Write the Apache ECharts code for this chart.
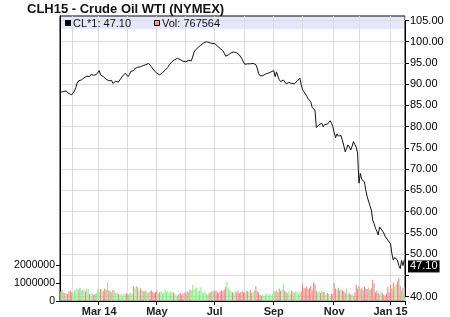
<!DOCTYPE html>
<html>
<head>
<meta charset="utf-8">
<script src="https://cdn.jsdelivr.net/npm/echarts@6/dist/echarts.min.js"></script>
<style>html,body{margin:0;padding:0;background:#fff;}#c{width:450px;height:317px;}</style>
</head>
<body>
<div id="c"></div>
<script>
// ---- data ----
var titleText = 'CLH15 - Crude Oil WTI (NYMEX)';
var legendPrice = 'CL*1: 47.10';
var legendVol = 'Vol: 767564';
var lastLabel = '47.10';
var lastValue = 47.10;
var hiddenPriceLabels = [45];
var holidays = ['2014-02-17','2014-04-18','2014-05-26','2014-07-04','2014-09-01','2014-11-27','2014-12-25','2015-01-01'];
var firstDay = '2014-01-21', lastDay = '2015-01-16';
var monthNames = ['Jan','Feb','Mar','Apr','May','Jun','Jul','Aug','Sep','Oct','Nov','Dec'];
var labelMonths = [0, 2, 4, 6, 8, 10];
var priceTicks = {min: 40, max: 105, interval: 5};
var volTicks = [0, 1000000, 2000000];

var price = [
88.1,88.0,88.3,88.1,88.4,88.2,87.8,87.6,87.5,87.7,
88.4,89.2,90.3,90.8,90.7,91.0,91.2,91.5,91.4,91.9,
92.0,91.8,92.3,92.6,92.1,91.8,92.3,92.6,93.2,92.2,
92.5,91.8,91.6,91.2,91.4,90.8,90.6,90.9,90.2,90.4,
90.7,90.8,90.5,91.0,91.4,91.9,92.3,92.6,92.2,91.8,
92.3,93.0,93.3,93.2,93.7,94.1,94.0,94.3,94.1,94.5,
94.4,94.7,94.6,94.9,94.9,94.5,94.1,93.8,93.2,92.9,
92.6,92.8,92.2,92.4,92.7,93.0,93.3,93.7,94.0,94.6,
95.0,95.3,95.2,95.8,95.9,96.1,96.0,95.8,95.5,95.4,
95.6,95.3,95.2,95.6,95.4,95.5,96.4,97.5,98.0,98.2,
98.7,98.9,99.2,99.4,99.7,99.8,100.0,100.1,99.8,99.9,
99.6,99.7,99.6,99.3,99.0,98.7,98.4,98.2,97.9,97.3,
96.6,96.9,96.9,97.2,97.4,97.3,97.6,97.6,97.4,97.1,
96.9,96.4,95.9,95.2,94.7,94.9,94.8,95.0,94.8,94.7,
94.9,95.0,94.6,93.8,92.5,92.0,91.7,92.0,92.3,92.4,
92.5,92.6,92.7,92.9,93.0,93.2,91.8,92.9,91.9,91.1,
90.6,90.8,91.0,90.6,90.1,90.3,90.4,90.6,90.2,89.8,
90.1,90.4,90.7,91.0,91.4,89.9,88.7,88.2,87.8,87.2,
86.6,86.4,85.8,84.5,84.2,83.9,79.8,80.1,80.5,80.3,
80.8,80.0,80.5,80.8,80.6,81.0,81.4,80.9,80.0,78.6,
77.4,78.3,77.8,77.6,77.9,77.6,75.5,74.1,74.9,75.7,
75.2,74.5,75.4,76.5,75.8,75.2,73.8,66.7,69.0,67.6,
67.2,67.0,65.0,63.5,63.9,61.4,60.4,58.0,57.2,56.1,
55.4,54.5,56.4,56.8,55.5,55.0,54.2,53.8,53.3,53.1,
52.4,50.0,48.6,49.2,49.3,48.6,47.3,46.6,48.5,47.3,
48.6
];

// volume in millions of contracts
var volumeM = [
0.55,0.62,0.50,0.45,0.45,0.40,0.55,0.60,0.50,0.48,
0.60,0.62,0.70,0.65,0.75,0.60,0.62,0.65,0.55,0.70,
0.68,0.40,0.38,0.42,0.35,0.40,0.45,0.70,0.50,0.68,
0.62,0.55,0.70,0.65,1.08,0.60,0.55,0.50,0.62,0.60,
0.45,0.50,0.40,0.35,0.42,0.30,0.40,0.38,0.45,0.35,
0.42,0.48,0.40,0.80,0.72,0.85,0.78,0.60,0.75,0.65,
0.55,0.55,0.60,0.50,0.45,0.55,0.60,0.52,0.45,0.50,
0.60,0.45,0.50,0.55,0.42,0.48,0.65,0.50,0.58,0.45,
0.55,0.50,0.48,0.40,0.35,0.30,0.40,0.45,0.35,0.42,
0.50,0.45,0.55,0.50,0.65,0.60,0.90,0.62,0.70,0.75,
0.55,0.60,0.78,0.50,0.45,0.55,0.40,0.35,0.45,0.50,
0.55,0.60,0.55,0.60,0.50,0.45,0.55,0.60,0.55,0.65,
0.80,1.10,0.70,0.60,0.55,0.50,0.45,0.55,0.50,0.60,
0.45,0.50,0.55,0.48,0.50,0.60,0.55,0.50,0.62,0.45,
0.52,0.58,0.85,0.55,0.50,0.35,0.30,0.40,0.28,0.35,
0.45,0.32,0.38,0.30,0.40,0.60,0.55,0.62,0.50,0.70,
0.58,0.65,0.98,0.60,0.50,0.45,0.55,0.40,0.60,0.50,
0.45,0.55,0.52,0.40,0.50,0.55,1.00,0.75,0.70,0.82,
0.65,0.72,0.85,0.60,1.05,0.95,0.60,0.50,0.55,0.45,
0.60,0.50,0.52,0.35,0.45,0.40,0.30,0.42,0.38,1.00,
0.70,0.65,0.75,0.60,0.68,0.60,0.55,0.45,0.70,0.40,
0.45,0.35,0.42,0.30,0.50,0.92,0.70,0.85,0.65,0.72,
0.60,0.80,0.70,0.68,0.75,0.62,0.72,1.20,1.00,0.50,
0.60,0.45,0.40,0.55,0.45,0.35,0.30,0.42,0.80,0.50,
0.90,0.70,1.05,0.80,0.95,1.10,1.30,0.85,0.60,0.75,
0.77
];

// ---- trading-day categories ----
var dates = [];
(function () {
  var d = Date.parse(firstDay + 'T00:00:00Z'), end = Date.parse(lastDay + 'T00:00:00Z');
  for (; d <= end; d += 86400000) {
    var dt = new Date(d), wd = dt.getUTCDay(), s = dt.toISOString().slice(0, 10);
    if (wd === 0 || wd === 6 || holidays.indexOf(s) >= 0) continue;
    dates.push(s);
  }
})();
function monthOf(s) { return parseInt(s.slice(5, 7), 10) - 1; }
function isMonthStart(i) { return i > 0 && monthOf(dates[i]) !== monthOf(dates[i - 1]); }
function isLabelMonth(i) { return isMonthStart(i) && labelMonths.indexOf(monthOf(dates[i])) >= 0; }
var firstLabelIdx = -1;
for (var k = 0; k < dates.length; k++) { if (isLabelMonth(k)) { firstLabelIdx = k; break; } }

var UP = '#84ef84', DOWN = '#f38080';
var volData = volumeM.map(function (v, i) {
  var up = i === 0 ? true : price[i] >= price[i - 1];
  return { value: Math.round(v * 1000000), itemStyle: { color: up ? UP : DOWN } };
});

var FONT = "'Liberation Sans', Arial, sans-serif";
var chart = echarts.init(document.getElementById('c'), null, { renderer: 'canvas' });
chart.setOption({
  animation: false,
  backgroundColor: '#fff',
  textStyle: { fontFamily: FONT },
  title: {
    text: titleText, left: 27, top: 3, padding: 0,
    textStyle: { fontFamily: FONT, fontSize: 13, fontWeight: 'bold', color: '#111' }
  },
  grid: [
    { left: 60, top: 16, width: 345, height: 285, show: true, borderColor: '#000', borderWidth: 1, backgroundColor: 'transparent' },
    { left: 60, top: 20.5, width: 345, height: 276.1, show: false }
  ],
  xAxis: [
    {
      gridIndex: 0, type: 'category', data: dates, boundaryGap: true,
      axisLine: { show: true, lineStyle: { color: '#000', width: 1 } },
      axisTick: { show: true, interval: function (i) { return isLabelMonth(i); }, length: 4, lineStyle: { color: '#000' } },
      axisLabel: {
        interval: function (i) { return isLabelMonth(i); },
        margin: 5, fontSize: 11, fontWeight: 'bold', color: '#222', fontFamily: FONT,
        formatter: function (v, i) {
          var m = monthOf(v), yy = v.slice(2, 4);
          return monthNames[m] + ((m === 0 || i === firstLabelIdx) ? ' ' + yy : '');
        }
      },
      splitLine: { show: true, interval: function (i) { return isMonthStart(i); }, lineStyle: { color: '#dcdcdc', width: 1 } }
    },
    { gridIndex: 1, type: 'category', data: dates, boundaryGap: true, show: false }
  ],
  yAxis: [
    {
      gridIndex: 0, type: 'value', position: 'left', min: 0, max: 16100000,
      axisLine: { show: true, lineStyle: { color: '#000' } },
      axisTick: { show: true, length: 4, customValues: volTicks, lineStyle: { color: '#000' } },
      axisLabel: { customValues: volTicks, margin: 5, fontSize: 10.5, color: '#000', fontFamily: FONT, formatter: function (v) { return String(v); } },
      splitLine: { show: false }
    },
    {
      gridIndex: 1, type: 'value', position: 'right', min: priceTicks.min, max: priceTicks.max, interval: priceTicks.interval,
      axisLine: { show: true, lineStyle: { color: '#000' } },
      axisTick: { show: true, length: 4, lineStyle: { color: '#000' } },
      axisLabel: { margin: 5, fontSize: 11, color: '#000', fontFamily: FONT, formatter: function (v) { return hiddenPriceLabels.indexOf(v) >= 0 ? '' : v.toFixed(2); } },
      splitLine: { show: true, lineStyle: { color: '#dcdcdc', width: 1 } }
    }
  ],
  graphic: [
    { type: 'rect', z: -1, silent: true, shape: { x: 60.5, y: 16.5, width: 344, height: 12.5 }, style: { fill: 'rgba(210,210,250,0.55)' } },
    { type: 'rect', z: 10, silent: true, shape: { x: 65, y: 20, width: 6, height: 6 }, style: { fill: '#000' } },
    { type: 'text', z: 10, silent: true, style: { x: 73, y: 23.5, text: legendPrice, font: '11px ' + FONT, fill: '#111', verticalAlign: 'middle' } },
    { type: 'rect', z: 10, silent: true, shape: { x: 154.5, y: 20.5, width: 5, height: 5 }, style: { fill: '#ff9999', stroke: '#000', lineWidth: 1 } },
    { type: 'text', z: 10, silent: true, style: { x: 162, y: 23.5, text: legendVol, font: '11px ' + FONT, fill: '#111', verticalAlign: 'middle' } }
  ],
  series: [
    {
      name: 'Vol', type: 'bar', xAxisIndex: 0, yAxisIndex: 0, data: volData,
      barWidth: 1, itemStyle: { color: '#ff9999' }, z: 1, silent: true
    },
    {
      name: 'CL*1', type: 'line', xAxisIndex: 1, yAxisIndex: 1, data: price,
      showSymbol: false, symbol: 'none', silent: true, z: 5,
      lineStyle: { color: '#111', width: 1 },
      markLine: {
        silent: true, symbol: 'none', animation: false,
        lineStyle: { color: 'rgba(0,0,0,0)', width: 1, type: 'solid' },
        data: [{ yAxis: lastValue }],
        label: {
          show: true, position: 'end', distance: 3, formatter: lastLabel,
          color: '#fff', backgroundColor: '#000', padding: [1, 2, 0, 2],
          fontSize: 11, fontFamily: FONT
        }
      }
    }
  ]
});
</script>
</body>
</html>
